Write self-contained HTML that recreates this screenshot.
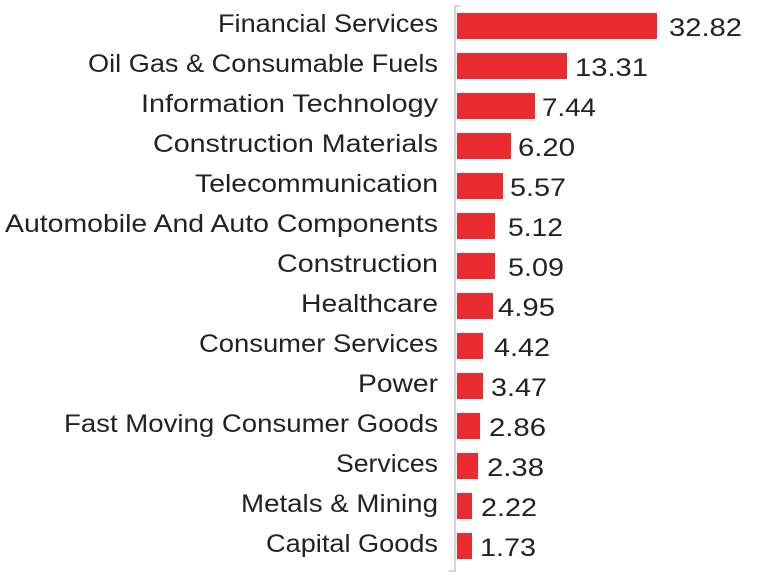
<!DOCTYPE html>
<html><head><meta charset="utf-8"><style>
html,body{margin:0;padding:0;background:#fff;}
svg{display:block;}
text{font-family:"Liberation Sans",sans-serif;fill:#222;}
</style></head><body>
<svg width="758" height="584" viewBox="0 0 758 584" xmlns="http://www.w3.org/2000/svg">
<line x1="455" y1="6" x2="455" y2="571" stroke="#d0d4dc" stroke-width="2"/>
<line x1="454" y1="6" x2="460" y2="6" stroke="#d0d4dc" stroke-width="2"/>
<line x1="449" y1="571" x2="456" y2="571" stroke="#d0d4dc" stroke-width="2"/>
<g fill="#ea2b30">
<rect x="457" y="13" width="200" height="26"/>
<rect x="457" y="53" width="110" height="26"/>
<rect x="457" y="93" width="78" height="26"/>
<rect x="457" y="133" width="54" height="26"/>
<rect x="457" y="173" width="46" height="26"/>
<rect x="457" y="213" width="38" height="26"/>
<rect x="457" y="253" width="38" height="26"/>
<rect x="457" y="293" width="36" height="26"/>
<rect x="457" y="333" width="26" height="26"/>
<rect x="457" y="373" width="26" height="26"/>
<rect x="457" y="413" width="23" height="26"/>
<rect x="457" y="453" width="21" height="26"/>
<rect x="457" y="493" width="15" height="26"/>
<rect x="457" y="533" width="15" height="26"/>
</g>
<g font-size="25" text-anchor="end" lengthAdjust="spacingAndGlyphs">
<text x="438" y="32" textLength="220" lengthAdjust="spacingAndGlyphs">Financial Services</text>
<text x="438" y="72" textLength="350" lengthAdjust="spacingAndGlyphs">Oil Gas &amp; Consumable Fuels</text>
<text x="438" y="112" textLength="297" lengthAdjust="spacingAndGlyphs">Information Technology</text>
<text x="438" y="152" textLength="285" lengthAdjust="spacingAndGlyphs">Construction Materials</text>
<text x="438" y="192" textLength="243" lengthAdjust="spacingAndGlyphs">Telecommunication</text>
<text x="438" y="232" textLength="433" lengthAdjust="spacingAndGlyphs">Automobile And Auto Components</text>
<text x="438" y="272" textLength="161" lengthAdjust="spacingAndGlyphs">Construction</text>
<text x="438" y="312" textLength="137" lengthAdjust="spacingAndGlyphs">Healthcare</text>
<text x="438" y="352" textLength="239" lengthAdjust="spacingAndGlyphs">Consumer Services</text>
<text x="438" y="392" textLength="80" lengthAdjust="spacingAndGlyphs">Power</text>
<text x="438" y="432" textLength="374" lengthAdjust="spacingAndGlyphs">Fast Moving Consumer Goods</text>
<text x="438" y="472" textLength="102" lengthAdjust="spacingAndGlyphs">Services</text>
<text x="438" y="512" textLength="197" lengthAdjust="spacingAndGlyphs">Metals &amp; Mining</text>
<text x="438" y="552" textLength="172" lengthAdjust="spacingAndGlyphs">Capital Goods</text>
</g>
<g font-size="25">
<text x="669" y="36" textLength="73" lengthAdjust="spacingAndGlyphs">32.82</text>
<text x="575" y="76" textLength="73" lengthAdjust="spacingAndGlyphs">13.31</text>
<text x="542" y="116" textLength="54" lengthAdjust="spacingAndGlyphs">7.44</text>
<text x="518" y="156" textLength="57" lengthAdjust="spacingAndGlyphs">6.20</text>
<text x="510" y="196" textLength="56" lengthAdjust="spacingAndGlyphs">5.57</text>
<text x="508" y="236" textLength="55" lengthAdjust="spacingAndGlyphs">5.12</text>
<text x="508" y="276" textLength="56" lengthAdjust="spacingAndGlyphs">5.09</text>
<text x="498" y="316" textLength="57" lengthAdjust="spacingAndGlyphs">4.95</text>
<text x="494" y="356" textLength="56" lengthAdjust="spacingAndGlyphs">4.42</text>
<text x="491" y="396" textLength="56" lengthAdjust="spacingAndGlyphs">3.47</text>
<text x="489" y="436" textLength="57" lengthAdjust="spacingAndGlyphs">2.86</text>
<text x="487" y="476" textLength="57" lengthAdjust="spacingAndGlyphs">2.38</text>
<text x="481" y="516" textLength="56" lengthAdjust="spacingAndGlyphs">2.22</text>
<text x="480" y="556" textLength="56" lengthAdjust="spacingAndGlyphs">1.73</text>
</g>
</svg>
</body></html>
